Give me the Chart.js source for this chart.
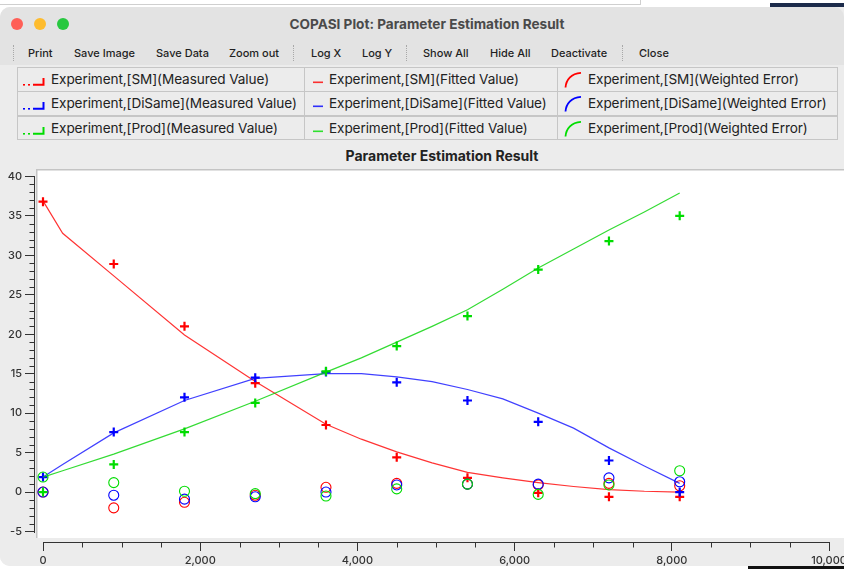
<!DOCTYPE html>
<html><head><meta charset="utf-8">
<script src="https://cdn.jsdelivr.net/npm/chart.js@4.4.1/dist/chart.umd.min.js"></script>
<style>
html,body{margin:0;padding:0}
body{width:844px;height:569px;overflow:hidden;position:relative;background:#fff;font-family:Inter,"Liberation Sans",Arial,sans-serif;color:#222}
.a{position:absolute;white-space:nowrap}
#bgtop{left:0;top:0;width:640px;height:4px;border-bottom:1px solid #cfcfcf;border-right:1px solid #cfcfcf}
#dark{left:770px;top:3px;width:74px;height:8px;background:#1c2b4a}
#darkb{left:748px;top:565px;width:96px;height:4px;background:#111}
#win{left:0;top:7px;width:880px;height:559px;background:#ececec;border-radius:10px;overflow:hidden}
#titlebar{left:0;top:7px;width:844px;height:58px;background:#e3e3e3;border-radius:10px 10px 0 0}
.light{top:18px;width:12px;height:12px;border-radius:50%}
#wtitle{top:15px;left:277px;width:300px;text-align:center;font-size:13.6px;font-weight:700;color:#4a4a4a;line-height:18px}
.tool{top:46px;font-size:11px;font-weight:500;color:#1f1f1f;line-height:14px}
.sep{top:45px;height:16px;width:0;border-left:1px dotted #a8a8a8}
.cell{height:24px;border:1px solid #c6c6c6;box-sizing:border-box;background:#ececec}
.lt{font-size:13.6px;line-height:16px;color:#222;letter-spacing:-0.1px}
#ptitle{top:147px;left:292px;width:300px;text-align:center;font-size:14px;font-weight:700;color:#222;line-height:18px}
#plotwrap{left:0;top:165px;width:844px;height:401px;overflow:hidden;border-bottom-left-radius:10px}
</style>
</head><body>
<div class="a" id="bgtop"></div>
<div class="a" id="dark"></div>
<div class="a" id="darkb"></div>
<div class="a" id="win"></div>
<div class="a" id="titlebar"></div>
<div class="a light" style="left:11px;background:#ff5f57"></div>
<div class="a light" style="left:34px;background:#febc2e"></div>
<div class="a light" style="left:57px;background:#28c840"></div>
<div class="a" id="wtitle">COPASI Plot: Parameter Estimation Result</div>

<div class="a sep" style="left:13px"></div>
<div class="a tool" style="left:28px">Print</div>
<div class="a tool" style="left:74px">Save Image</div>
<div class="a tool" style="left:156px">Save Data</div>
<div class="a tool" style="left:229px">Zoom out</div>
<div class="a sep" style="left:293px"></div>
<div class="a tool" style="left:311px">Log X</div>
<div class="a tool" style="left:362px">Log Y</div>
<div class="a sep" style="left:406px"></div>
<div class="a tool" style="left:423px">Show All</div>
<div class="a tool" style="left:490px">Hide All</div>
<div class="a tool" style="left:551px">Deactivate</div>
<div class="a sep" style="left:622px"></div>
<div class="a tool" style="left:639px">Close</div>

<div id="legend"></div>
<div class="a" id="ptitle">Parameter Estimation Result</div>

<div class="a" id="plotwrap"><canvas id="c" width="870" height="401" style="width:870px;height:401px;display:block"></canvas></div>

<script>
// ---- data ----
const times = [0, 900, 1800, 2700, 3600, 4500, 5400, 6300, 7200, 8100];
const fitTimes = [0, 250, 900, 1800, 2700, 3600, 4050, 4500, 4950, 5400, 5850, 6300, 6750, 7200, 7650, 8100];

const smMeasured    = [36.8, 28.9, 21.0, 13.8, 8.5, 4.4, 1.8, -0.1, -0.6, -0.6];
const diSameMeasured= [1.9, 7.6, 12.0, 14.5, 15.2, 13.9, 11.6, 8.9, 4.0, 0.0];
const prodMeasured  = [0.0, 3.5, 7.6, 11.3, 15.3, 18.5, 22.3, 28.2, 31.8, 35.0];

const smFitted      = [36.9, 32.8, 27.4, 19.9, 14.0, 8.6, 6.7, 5.1, 3.7, 2.5, 1.8, 1.2, 0.7, 0.3, 0.1, 0.0];
const diSameFitted  = [1.9, 3.5, 7.5, 11.6, 14.4, 15.0, 15.0, 14.6, 14.0, 13.0, 11.8, 10.0, 8.1, 5.6, 3.3, 1.1];
const prodFitted    = [1.9, 2.7, 4.8, 8.0, 11.5, 15.2, 17.0, 19.0, 21.0, 23.1, 25.7, 28.4, 30.8, 33.2, 35.5, 37.9];

const smError       = [0.0, -2.0, -1.3, -0.4, 0.6, 1.1, 1.0, 0.9, 1.1, 0.8];
const diSameError   = [0.0, -0.4, -0.9, -0.6, 0.0, 0.9, 1.0, 1.0, 1.8, 1.3];
const prodError     = [1.9, 1.2, 0.1, -0.2, -0.5, 0.4, 1.0, -0.3, 0.9, 2.7];

const speciesNames = ['SM', 'DiSame', 'Prod'];
const kindNames = ['Measured Value', 'Fitted Value', 'Weighted Error'];
const xMajorTicks = [0, 2000, 4000, 6000, 8000, 10000];
const yMajorTicks = [-5, 0, 5, 10, 15, 20, 25, 30, 35, 40];

// ---- legend table ----
const colors = ['#ff0000', '#0000ff', '#00dd00'];
const colX = [17, 304, 557], colW = [288, 254, 281], rowY = [67, 91, 116];
const textX = [50, 328, 587];
function icon(kind, col) {
  if (kind === 0) return '<svg width="24" height="14" style="position:absolute;left:5px;top:5px"><rect x="0" y="11" width="2" height="1.6" fill="'+col+'"/><rect x="5" y="11" width="2" height="1.6" fill="'+col+'"/><path d="M10 11.8 H20.5 V5" stroke="'+col+'" stroke-width="2" fill="none"/></svg>';
  if (kind === 1) return '<svg width="12" height="4" style="position:absolute;left:8px;top:13px"><rect x="0" y="0.5" width="10" height="1.6" fill="'+col+'" opacity="0.8"/></svg>';
  return '<svg width="20" height="18" style="position:absolute;left:6px;top:3px"><path d="M1.5 16.5 C2 9 7 2.5 17 1.8" stroke="'+col+'" stroke-width="1.8" fill="none"/></svg>';
}
let html = '';
for (let r = 0; r < 3; r++) {
  for (let k = 0; k < 3; k++) {
    const left = colX[k], top = rowY[r];
    html += '<div class="a cell" style="left:'+left+'px;top:'+top+'px;width:'+colW[k]+'px;height:'+(r===2?24:25)+'px">' +
      icon(k, colors[r]) +
      '<span class="a lt" style="left:'+(textX[k]-left)+'px;top:3px">Experiment,['+speciesNames[r]+']('+kindNames[k]+')</span></div>';
  }
}
document.getElementById('legend').innerHTML = html;

// ---- chart ----
const toXY = (xs, ys) => xs.map((x, i) => ({x: x, y: ys[i]}));
const measured = [smMeasured, diSameMeasured, prodMeasured];
const fitted = [smFitted, diSameFitted, prodFitted];
const errors = [smError, diSameError, prodError];
const lineColors = ['rgba(255,0,0,0.8)', 'rgba(0,0,255,0.75)', 'rgba(0,210,0,0.8)'];

const datasets = [];
for (let s = 0; s < 3; s++) {
  datasets.push({label: 'Experiment,['+speciesNames[s]+'](Measured Value)', data: toXY(times, measured[s]),
    showLine: false, pointStyle: 'cross', pointRadius: 4.5, pointBorderWidth: 2.2,
    borderColor: colors[s], backgroundColor: colors[s]});
  datasets.push({label: 'Experiment,['+speciesNames[s]+'](Fitted Value)', data: toXY(fitTimes, fitted[s]),
    showLine: true, pointRadius: 0, borderWidth: 1.2, borderColor: lineColors[s], tension: 0, fill: false});
  datasets.push({label: 'Experiment,['+speciesNames[s]+'](Weighted Error)', data: toXY(times, errors[s]),
    showLine: false, pointStyle: 'circle', pointRadius: 5, pointBorderWidth: 1.1,
    borderColor: colors[s], backgroundColor: 'rgba(0,0,0,0)'});
}
datasets.forEach((d, i) => { d.order = datasets.length - i; });

const minorY = [], minorX = [];
for (let v = -5; v <= 40; v++) if (v % 5 !== 0) minorY.push(v);
for (let v = 0; v <= 10000; v += 500) if (v % 2000 !== 0) minorX.push(v);

const qwtPlugin = {
  id: 'qwt',
  beforeDraw(chart) {
    const ctx = chart.ctx, ca = chart.chartArea;
    ctx.save();
    ctx.fillStyle = '#ececec';
    ctx.fillRect(0, 0, chart.width, chart.height);
    ctx.fillStyle = '#ffffff';
    ctx.fillRect(ca.left + 2, ca.top, ca.right - ca.left, ca.bottom - 4 - ca.top);
    ctx.fillStyle = '#c4c4c4';
    ctx.fillRect(ca.left + 1, ca.top, 1.5, ca.bottom - 4 - ca.top);
    ctx.fillRect(ca.left + 1, ca.top, ca.right - ca.left, 1.5);
    ctx.restore();
  },
  afterDraw(chart) {
    const ctx = chart.ctx, ca = chart.chartArea, xs = chart.scales.x, ys = chart.scales.y;
    ctx.save();
    ctx.strokeStyle = '#333';
    ctx.lineWidth = 1;
    ctx.beginPath();
    const bx = Math.round(ca.left) - 0.5;
    ctx.moveTo(bx, Math.round(ys.getPixelForValue(40)));
    ctx.lineTo(bx, Math.round(ys.getPixelForValue(-5)) + 1);
    minorY.forEach(v => { const p = Math.round(ys.getPixelForValue(v)) + 0.5; ctx.moveTo(bx - 5, p); ctx.lineTo(bx, p); });
    const by = Math.round(ca.bottom) + 0.5;
    ctx.moveTo(Math.round(xs.getPixelForValue(0)), by);
    ctx.lineTo(Math.round(xs.getPixelForValue(10000)) + 1, by);
    minorX.forEach(v => { const p = Math.round(xs.getPixelForValue(v)) + 0.5; ctx.moveTo(p, by); ctx.lineTo(p, by + 5); });
    ctx.stroke();
    ctx.restore();
  }
};

new Chart(document.getElementById('c'), {
  type: 'scatter',
  data: {datasets: datasets},
  options: {
    responsive: false, animation: false, devicePixelRatio: 1,
    layout: {padding: {top: 4, right: 0, bottom: 0, left: 0}, autoPadding: false},
    plugins: {legend: {display: false}, tooltip: {enabled: false}, title: {display: false}},
    scales: {
      x: {
        type: 'linear', position: 'bottom', bounds: 'data', min: -101.8, max: 10521,
        afterBuildTicks: s => { s.ticks = xMajorTicks.map(v => ({value: v})); },
        afterFit: s => { s.height = 24; s.paddingLeft = 0; s.paddingRight = 0; },
        grid: {drawOnChartArea: false, drawTicks: true, tickLength: 9, color: '#333', lineWidth: 1},
        border: {display: false},
        ticks: {font: {family: 'Inter', size: 11, weight: '500'}, color: '#333', padding: 3, maxRotation: 0, autoSkip: false,
          callback: v => Number(v).toLocaleString('en-US')}
      },
      y: {
        type: 'linear', position: 'left', bounds: 'data', min: -6.33, max: 40.94,
        afterBuildTicks: s => { s.ticks = yMajorTicks.map(v => ({value: v})); },
        afterFit: s => { s.width = 35; s.paddingTop = 0; s.paddingBottom = 0; },
        grid: {drawOnChartArea: false, drawTicks: true, tickLength: 10, color: '#333', lineWidth: 1},
        border: {display: false},
        ticks: {font: {family: 'Inter', size: 11, weight: '500'}, color: '#333', padding: 3, autoSkip: false,
          callback: v => String(v)}
      }
    }
  },
  plugins: [qwtPlugin]
});
</script>
</body></html>
